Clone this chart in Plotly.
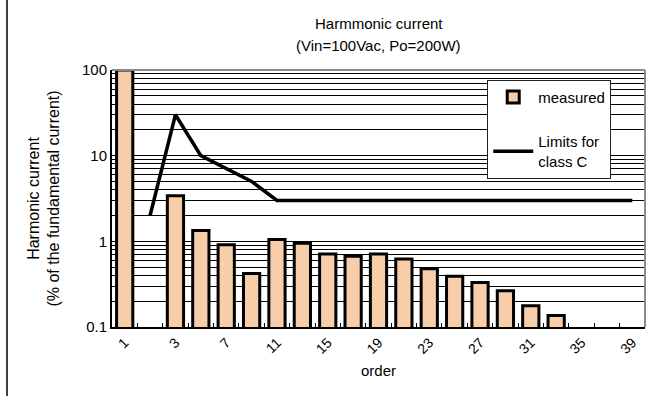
import plotly.graph_objects as go

orders = ["1", "2", "3", "5", "7", "9", "11", "13", "15", "17", "19", "21",
          "23", "25", "27", "29", "31", "33", "35", "37", "39"]
measured = [100, None, 3.4, 1.34, 0.91, 0.42, 1.05, 0.95, 0.71, 0.67, 0.71, 0.62,
            0.48, 0.39, 0.33, 0.265, 0.177, 0.136, None, None, None]
limits = [None, 2, 30, 10, 7, 5, 3, 3, 3, 3, 3, 3, 3, 3, 3, 3, 3, 3, 3, 3, 3]
tick_labels = [o if i % 2 == 0 else "" for i, o in enumerate(orders)]
mults = [m for e in (-1, 0, 1) for m in range(1, 10)] + [1]
ytick_vals = [m * 10 ** e for e in (-1, 0, 1) for m in range(1, 10)] + [100]
ytick_text = [("%g" % v) if m == 1 else "" for v, m in zip(ytick_vals, mults)]
title_lines = ["Harmmonic current", "(Vin=100Vac, Po=200W)"]

FONT = "Liberation Sans, Arial, sans-serif"

fig = go.Figure()
fig.add_trace(go.Bar(
    x=orders, y=measured, name="measured",
    marker=dict(color="#F8CDAA", line=dict(color="black", width=3)),
    legendgroup="a",
))
fig.add_trace(go.Scatter(
    x=orders, y=limits, name="Limits for<br>class C", mode="lines",
    line=dict(color="black", width=3.5), legendgroup="b",
))

fig.update_layout(
    width=651, height=396,
    margin=dict(l=112, r=6, t=70, b=69),
    paper_bgcolor="white", plot_bgcolor="white",
    font=dict(family=FONT, size=15, color="black"),
    bargap=0.36,
    showlegend=True,
    legend=dict(x=0.704, y=0.962, xanchor="left", yanchor="top",
                bgcolor="white", bordercolor="#222", borderwidth=1,
                tracegroupgap=22, traceorder="grouped", itemwidth=40,
                entrywidth=115, font=dict(size=15)),
)
# two-line chart title
fig.add_annotation(text=title_lines[0], xref="paper", yref="paper", x=0.5, y=1,
                   xanchor="center", yanchor="bottom", yshift=36, showarrow=False,
                   font=dict(size=15))
fig.add_annotation(text=title_lines[1], xref="paper", yref="paper", x=0.5, y=1,
                   xanchor="center", yanchor="bottom", yshift=14, showarrow=False,
                   font=dict(size=15))
fig.update_xaxes(
    type="category", tickmode="array", tickvals=orders, ticktext=tick_labels,
    tickangle=-45, tickson="boundaries", ticks="inside", ticklen=4, tickcolor="black",
    showline=True, linecolor="black", linewidth=2, mirror=False,
    showgrid=False, tickfont=dict(size=14),
    title=dict(text="order", font=dict(size=15), standoff=10),
)
fig.update_yaxes(
    type="log", range=[-1, 2], tickmode="array", tickvals=ytick_vals, ticktext=ytick_text,
    ticks="inside", ticklen=4, tickcolor="black",
    showline=True, linecolor="black", linewidth=2,
    showgrid=True, gridcolor="black", gridwidth=1,
    tickfont=dict(size=15),
    title=dict(text="Harmonic current<br>(% of the fundamental current)", font=dict(size=16), standoff=18),
)
# gray frame on top and right of the plot area
fig.add_shape(type="line", xref="x domain", yref="y domain", x0=0, x1=1, y0=1, y1=1,
              line=dict(color="#8a8a8a", width=2))
fig.add_shape(type="line", xref="x domain", yref="y domain", x0=1, x1=1, y0=0, y1=1,
              line=dict(color="#8a8a8a", width=2))
# outer left border line of the figure frame
fig.add_shape(type="line", xref="paper", yref="paper",
              x0=(7 - 112) / 533, x1=(7 - 112) / 533, y0=-69 / 257, y1=(396 - 69) / 257,
              line=dict(color="black", width=1.5))

fig.write_html("out.html")
